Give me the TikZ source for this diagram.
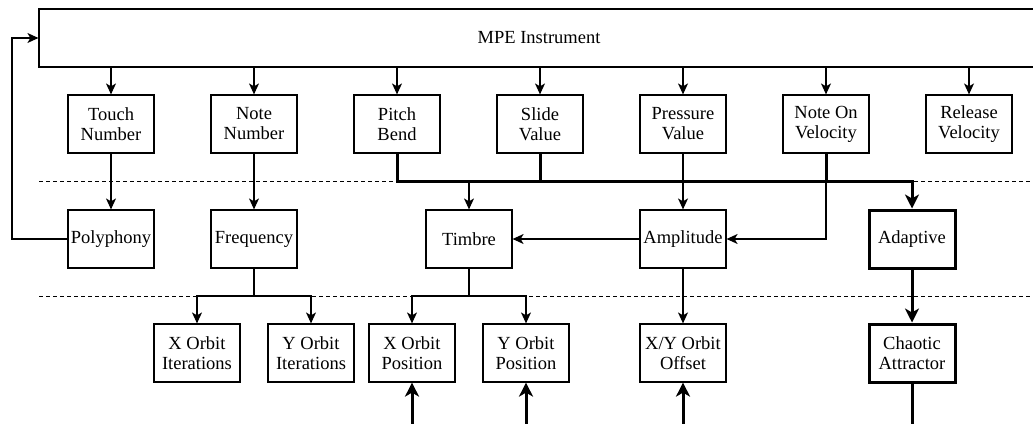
\documentclass[tikz,border=0pt]{standalone}
\usepackage{fontspec}
\setmainfont{Liberation Serif}
\usepackage{tikz}
\usetikzlibrary{arrows.meta, positioning, calc}

\tikzset{
    block/.style={rectangle, draw, line width=1.2pt, minimum width=86pt, minimum height=58pt,
        inner sep=0pt, align=center, font=\fontsize{18.5}{20}\selectfont},
    heavy/.style={block, line width=3pt},
    link/.style={-{Stealth[length=11pt, width=10pt, inset=3pt]}, line width=1.2pt},
    bus/.style={-{Stealth[length=14pt, width=14pt, inset=4pt]}, line width=3pt},
    divider/.style={line width=1pt, dash pattern=on 4pt off 3pt}
}

\begin{document}
\begin{tikzpicture}[x=1pt, y=-1pt, node distance = 143pt]
    \clip (0,0) rectangle (1033,423);
    \node[block, minimum width=1000pt] (mpe) at (539,38) {MPE Instrument};
    % inputs
    \node[block] (touch) at (111,124) {Touch\\Number};
    \node[block, right of=touch] (note) {Note\\Number};
    \node[block, right of=note] (pitch) {Pitch\\Bend};
    \node[block, right of=pitch] (slide) {Slide\\Value};
    \node[block, right of=slide] (pressure) {Pressure\\Value};
    \node[block, right of=pressure] (velon) {Note On\\Velocity};
    \node[block, right of=velon] (release) {Release\\Velocity};
    % mappings
    \node[block, below of=touch, node distance=115pt] (poly) {Polyphony};
    \node[block, below of=note, node distance=115pt] (freq) {Frequency};
    \node[block] (timbre) at (469,239) {Timbre};
    \node[block, below of=pressure, node distance=115pt] (amp) {Amplitude};
    \node[heavy] (adaptive) at (912,239) {Adaptive};
    % parameters
    \node[block] (xiter) at (197,353) {X Orbit\\Iterations};
    \node[block] (yiter) at (311,353) {Y Orbit\\Iterations};
    \node[block] (xpos) at (412,353) {X Orbit\\Position};
    \node[block] (ypos) at (526,353) {Y Orbit\\Position};
    \node[block, below of=amp, node distance=114pt] (offset) {X/Y Orbit\\Offset};
    \node[heavy, below of=adaptive, node distance=114pt] (chaos) {Chaotic\\Attractor};

    \coordinate (split) at (0,181);
    \coordinate (split2) at (0,296);
    \coordinate (loop) at (12,239);
    \coordinate (xin) at (412,430);
    \coordinate (yin) at (526,430);
    \coordinate (offin) at (683,430);
    \coordinate (chaosout) at (912,430);

    \draw[divider] (39,181) -- (1033,181);
    \draw[divider] (39,296) -- (1033,296);

    \draw[link] (mpe.south -| touch) -- (touch);
    \draw[link] (mpe.south -| note) -- (note);
    \draw[link] (mpe.south -| pitch) -- (pitch);
    \draw[link] (mpe.south -| slide) -- (slide);
    \draw[link] (mpe.south -| pressure) -- (pressure);
    \draw[link] (mpe.south -| velon) -- (velon);
    \draw[link] (mpe.south -| release) -- (release);

    \draw[link] (touch) -- (poly);
    \draw[link] (note) -- (freq);
    \draw[link] (pitch) |- (split -| timbre) -- (timbre);
    \draw[link] (pressure) -- (amp);
    \draw[link] (velon) |- (amp);
    \draw[link] (poly) -- (loop) |- (mpe);
    \draw[bus] (pitch) |- (split -| adaptive) -- (adaptive);
    \draw[line width=3pt] (slide) -- (split -| slide);
    \draw[line width=3pt] (velon) -- (split -| velon);

    \draw[link] (amp) -- (timbre);
    \draw[link] (amp) -- (offset);
    \draw[bus] (adaptive) -- (chaos);
    \draw[link] (freq) |- (split2 -| xiter) -- (xiter);
    \draw[link] (freq) |- (split2 -| yiter) -- (yiter);
    \draw[link] (timbre) |- (split2 -| xpos) -- (xpos);
    \draw[link] (timbre) |- (split2 -| ypos) -- (ypos);

    \draw[bus] (xin) -- (xpos);
    \draw[bus] (yin) -- (ypos);
    \draw[bus] (offin) -- (offset);
    \draw[line width=3pt] (chaos) -- (chaosout);
\end{tikzpicture}
\end{document}
